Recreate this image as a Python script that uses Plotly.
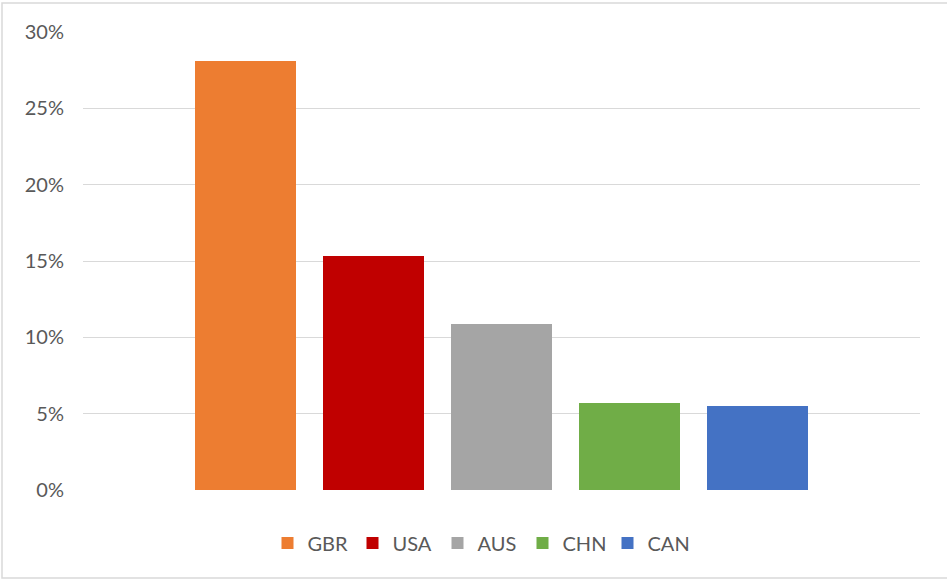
import plotly.graph_objects as go

countries = ["GBR", "USA", "AUS", "CHN", "CAN"]
values = [0.2808, 0.153, 0.109, 0.0573, 0.0547]
colors = ["#ED7D31", "#C00000", "#A5A5A5", "#70AD47", "#4472C4"]
tick_vals = [0, 0.05, 0.10, 0.15, 0.20, 0.25, 0.30]

fig = go.Figure()
for i, (c, v, col) in enumerate(zip(countries, values, colors)):
    fig.add_trace(go.Bar(
        x=[i], y=[v], name=c, width=0.79,
        marker=dict(color=col, line=dict(width=0)),
        hoverinfo="name+y",
    ))

W, H = 947, 580
L, R, T, B = 83, 27, 32, 90
pw, ph = W - L - R, H - T - B

def px_x(x):
    return (x - L) / pw

def px_y(y):
    return (H - B - y) / ph

fig.update_layout(
    width=W, height=H,
    margin=dict(l=L, r=R, t=T, b=B),
    paper_bgcolor="white", plot_bgcolor="white",
    font=dict(family="Lato, 'Open Sans', sans-serif", color="#595959", size=20),
    showlegend=True,
    legend=dict(orientation="h", x=px_x(480), xanchor="center",
                y=px_y(543), yanchor="middle",
                font=dict(size=20, color="#595959"),
                itemwidth=30, traceorder="normal",
                entrywidth=40, entrywidthmode="pixels"),
    bargap=0,
    xaxis=dict(range=[-1.27, 5.27], showticklabels=False, showgrid=False,
               zeroline=False, showline=False, fixedrange=True),
    yaxis=dict(range=[0, 0.30], tickvals=tick_vals, tickformat=".0%",
               showgrid=True, gridcolor="#D9D9D9", gridwidth=1.3,
               zeroline=False, showline=False, ticks="",
               ticklabelstandoff=18,
               tickfont=dict(size=20, color="#595959")),
    shapes=[
        dict(type="rect", xref="paper", yref="paper",
             x0=px_x(2), x1=px_x(960), y0=px_y(578), y1=px_y(3),
             line=dict(color="#D9D9D9", width=1.5), fillcolor="rgba(0,0,0,0)",
             layer="below"),
    ],
)

fig.write_html("out.html", config={"displayModeBar": False},
               post_script="document.body.style.margin='0';")
